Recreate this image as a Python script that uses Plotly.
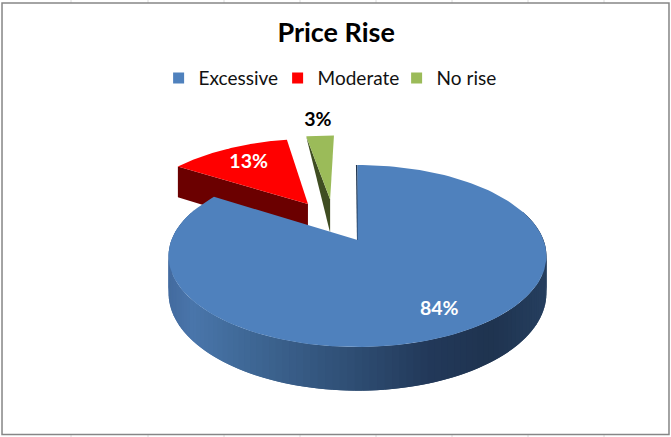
import numpy as np
import plotly.graph_objects as go

categories = ["Excessive", "Moderate", "No rise"]
values = [84, 13, 3]
labels = ["84%", "13%", "3%"]

top_colors = ["#4f81bd", "#ff0000", "#9bbb59"]
side_colors = ["#1f3550", "#6b0000", "#3f4d22"]
label_colors = ["white", "white", "black"]
label_radius = [0.8, 0.72, 1.27]
explode_u = [0.0, -0.287, -0.16]
explode_v = [0.0, 0.44, 0.498]

# projection of the tilted disc to window pixels
CX, CY, K, A, B, D = 357.5, 240.0, 0.1758, 88.2, 186.0, 36.0

frame_stubs = [71, 148, 224, 300, 376, 452, 528, 604]


def project(u, v):
    s = 1 + K * np.asarray(v, float)
    return CX + B * np.asarray(u, float) / s, CY - A * np.asarray(v, float) / s


def depth(v):
    v = np.asarray(v, float)
    return D / (1 + K * v) * np.clip((1.48 - v) / 0.48, 0, 1)


def poly(x, y, color, lw=0.0, lc=None):
    return go.Scatter(x=list(x) + [x[0]], y=list(y) + [y[0]], mode="lines", fill="toself",
                      fillcolor=color, line=dict(color=lc or color, width=lw),
                      hoverinfo="skip", showlegend=False)


fracs = np.array(values) / sum(values)
starts = np.concatenate([[0], np.cumsum(fracs)[:-1]]) * 2 * np.pi
ends = np.cumsum(fracs) * 2 * np.pi

side_x = [170, 193, 257, 364, 428, 492, 546]
side_r = [0x44, 0x4a, 0x3e, 0x2d, 0x23, 0x1f, 0x26]
side_g = [0x6c, 0x76, 0x66, 0x4b, 0x39, 0x34, 0x3f]
side_b = [0xa0, 0xab, 0x93, 0x70, 0x5a, 0x50, 0x5f]

fig = go.Figure()

for i in [2, 1, 0]:
    du, dv = explode_u[i], explode_v[i]
    th = np.linspace(starts[i], ends[i], 160)
    u = np.sin(th) + du
    v = np.cos(th) + dv
    px, py = project(u, v)
    ax, ay = project(du, dv)
    if i == 0:
        # rim with a left-to-right gradient; each quad overlaps the next to hide seams
        keep = np.where(v < 0.35)[0]
        pd_ = depth(v)
        for a, b in zip(keep[:-1], keep[1:]):
            if b != a + 1:
                continue
            c2 = min(b + 1, len(px) - 1)
            xm = (px[a] + px[b]) / 2
            c = "rgb(%d,%d,%d)" % (np.interp(xm, side_x, side_r), np.interp(xm, side_x, side_g),
                                   np.interp(xm, side_x, side_b))
            fig.add_trace(poly([px[a], px[c2], px[c2], px[a]],
                               [py[a], py[c2], py[c2] + pd_[c2], py[a] + pd_[a]], c))
        # cut face at twelve o'clock
        ex, ey = project([du, np.sin(th[0]) + du], [dv, np.cos(th[0]) + dv])
        fig.add_trace(go.Scatter(x=[ex[1] - 0.8, ex[0] + 0.2], y=[ey[1], ey[0]], mode="lines",
                                 line=dict(color=side_colors[0], width=1.5),
                                 hoverinfo="skip", showlegend=False))
    else:
        # visible cut face along the slice's leading edge
        eu = np.array([du, np.sin(starts[i]) + du])
        ev = np.array([dv, np.cos(starts[i]) + dv])
        ex, ey = project(eu, ev)
        dp = depth(ev)
        fig.add_trace(poly([ex[0], ex[1], ex[1], ex[0]],
                           [ey[0], ey[1], ey[1] + dp[1], ey[0] + dp[0]], side_colors[i]))
    fig.add_trace(poly([ax] + list(px), [ay] + list(py), top_colors[i]))

for i in range(3):
    mid = (starts[i] + ends[i]) / 2
    lx, ly = project(label_radius[i] * np.sin(mid) + explode_u[i],
                     label_radius[i] * np.cos(mid) + explode_v[i])
    fig.add_trace(go.Scatter(x=[float(lx)], y=[float(ly)], mode="text", text=[labels[i]],
                             textposition="middle center",
                             textfont=dict(family="Lato", size=19.5, color=label_colors[i], weight="bold"),
                             hoverinfo="skip", showlegend=False))

for i in range(3):
    fig.add_trace(go.Scatter(x=[None], y=[None], mode="markers", name=categories[i],
                             marker=dict(symbol="square", size=11, color=top_colors[i])))

stub_style = dict(type="line", yref="paper", line=dict(color="#dcdcdc", width=1), layer="below")
stubs = []
for s in frame_stubs:
    stubs.append(dict(x0=s, x1=s, y0=0.993, y1=1.0, xref="x", **stub_style))
    stubs.append(dict(x0=s, x1=s, y0=0.0, y1=0.006, xref="x", **stub_style))

fig.update_layout(
    width=671, height=437, margin=dict(l=0, r=0, t=0, b=0),
    paper_bgcolor="white", plot_bgcolor="white",
    title=dict(text="<b>Price Rise</b>", x=0.501, xanchor="center", y=0.926, yanchor="middle",
               font=dict(family="Lato", size=27, color="black")),
    xaxis=dict(range=[0, 671], visible=False, fixedrange=True),
    yaxis=dict(range=[437, 0], visible=False, fixedrange=True),
    legend=dict(orientation="h", x=0.5024, xanchor="center", y=0.821, yanchor="middle",
                entrywidth=74, entrywidthmode="pixels",
                font=dict(family="Lato", size=19, color="#111111"), bgcolor="rgba(0,0,0,0)",
                itemclick=False, itemdoubleclick=False),
    shapes=stubs + [dict(type="rect", xref="paper", yref="paper", x0=0.003, x1=0.997, y0=0.006, y1=0.993,
                         line=dict(color="#868686", width=1.5), fillcolor="rgba(0,0,0,0)", layer="below")],
)
fig.write_html("out.html", post_script="document.body.style.margin='0';", config={"displayModeBar": False})
